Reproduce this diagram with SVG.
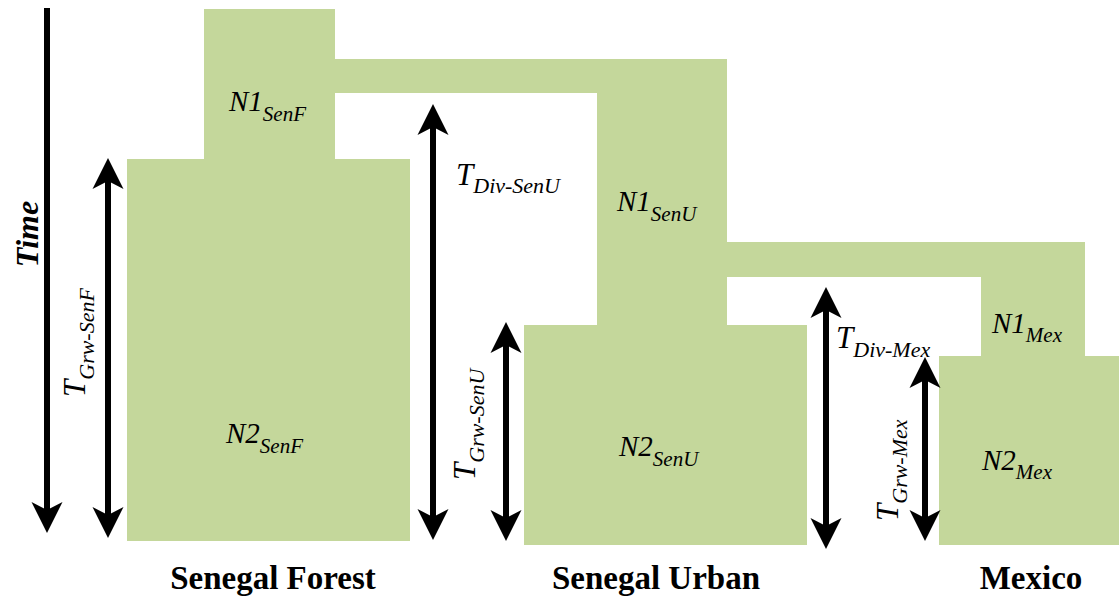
<svg xmlns="http://www.w3.org/2000/svg" width="1119" height="598" viewBox="0 0 1119 598">
<style>
.g{fill:#C4D79B}
.m{font-family:"Liberation Serif","Times New Roman",serif;font-style:italic;font-size:29px;fill:#000}
.t{font-family:"Liberation Serif","Times New Roman",serif;font-style:italic;font-size:31px;fill:#000}
.s{font-size:21px}
.ts{font-size:22px}
.b{font-family:"Liberation Serif","Times New Roman",serif;font-weight:bold;font-size:33px;fill:#000;text-anchor:middle}
.ar{stroke:#000;stroke-width:6;fill:none}
</style>
<defs>
<marker id="ah" viewBox="0 -16 31 32" markerWidth="31" markerHeight="32" markerUnits="userSpaceOnUse" refX="8" refY="0" orient="auto-start-reverse">
<path d="M0,-15.5 L31,0 L0,15.5 L8,0 Z" fill="#000"/>
</marker>
</defs>
<rect width="1119" height="598" fill="#fff"/>
<g id="senegal-forest">
<rect class="g" x="204" y="9" width="131" height="150"/>
<rect class="g" x="127" y="159" width="283" height="382"/>
<text class="m" x="229" y="111">N1<tspan class="s" dy="10">SenF</tspan></text>
<text class="m" x="226" y="443">N2<tspan class="s" dy="10">SenF</tspan></text>
<text class="b" x="273" y="589">Senegal Forest</text>
</g>
<g id="senegal-urban">
<rect class="g" x="334" y="59" width="264" height="34"/>
<rect class="g" x="597" y="59" width="130" height="267"/>
<rect class="g" x="524" y="325" width="283" height="220"/>
<text class="m" x="617" y="211">N1<tspan class="s" dy="10">SenU</tspan></text>
<text class="m" x="619" y="456">N2<tspan class="s" dy="10">SenU</tspan></text>
<text class="b" x="656" y="589">Senegal Urban</text>
</g>
<g id="mexico">
<rect class="g" x="726" y="242" width="359" height="35"/>
<rect class="g" x="981" y="242" width="104" height="115"/>
<rect class="g" x="939" y="356" width="180" height="189"/>
<text class="m" x="992" y="333">N1<tspan class="s" dy="9">Mex</tspan></text>
<text class="m" x="982" y="470">N2<tspan class="s" dy="9">Mex</tspan></text>
<text class="b" x="1031" y="589">Mexico</text>
</g>
<g id="connectors">
<line class="ar" x1="47" y1="8" x2="47" y2="510" marker-end="url(#ah)"/>
<line class="ar" x1="108" y1="181" x2="108" y2="515" marker-start="url(#ah)" marker-end="url(#ah)"/>
<line class="ar" x1="433" y1="127" x2="433" y2="517" marker-start="url(#ah)" marker-end="url(#ah)"/>
<line class="ar" x1="506" y1="345" x2="506" y2="518" marker-start="url(#ah)" marker-end="url(#ah)"/>
<line class="ar" x1="826" y1="310" x2="826" y2="526" marker-start="url(#ah)" marker-end="url(#ah)"/>
<line class="ar" x1="925" y1="380" x2="925" y2="518" marker-start="url(#ah)" marker-end="url(#ah)"/>
</g>
<g id="labels">
<text class="b" transform="translate(38,234) rotate(-90)" style="font-style:italic;font-size:32px">Time</text>
<text class="t" transform="translate(85,397) rotate(-90)">T<tspan class="ts" dy="9">Grw-SenF</tspan></text>
<text class="t" transform="translate(475,480) rotate(-90)">T<tspan class="ts" dy="9">Grw-SenU</tspan></text>
<text class="t" transform="translate(898,521) rotate(-90)">T<tspan class="ts" dy="9">Grw-Mex</tspan></text>
<text class="t" x="456" y="185">T<tspan class="ts" dy="8">Div-SenU</tspan></text>
<text class="t" x="836" y="348">T<tspan class="ts" dy="9">Div-Mex</tspan></text>
</g>
</svg>
